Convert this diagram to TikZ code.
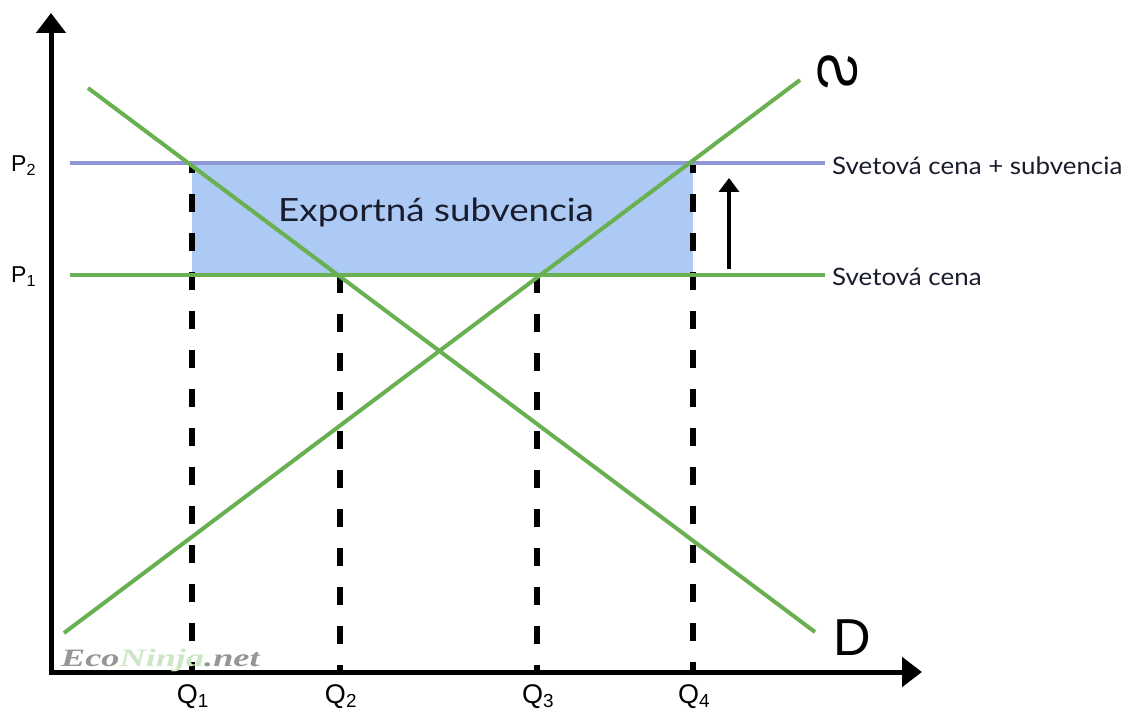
\documentclass[tikz,border=0pt]{standalone}
\usepackage{fontspec}
\usepackage{graphicx}
\setmainfont{Lato}
\newfontfamily\arialf{Liberation Sans}
\newfontfamily\serifw{Liberation Serif}
\usetikzlibrary{arrows.meta}
\definecolor{sgreen}{RGB}{104,176,80}
\definecolor{pblue}{RGB}{143,152,214}
\definecolor{sfill}{RGB}{172,202,244}
\definecolor{wmgray}{RGB}{150,150,150}
\definecolor{wmgreen}{RGB}{205,230,195}
\definecolor{txtdark}{RGB}{25,28,45}
\begin{document}
\begin{tikzpicture}[x=1pt,y=-1pt,
  axisline/.style={line width=5pt,{Triangle[width=29pt,length=20pt]}-{Triangle[width=29pt,length=20pt]}},
  curve/.style={sgreen,line width=4pt},
  pricelineA/.style={pblue,line width=3.5pt},
  pricelineB/.style={sgreen,line width=3.5pt},
  guide/.style={black,line width=6.5pt,dash pattern=on 18pt off 21pt},
  shiftarrow/.style={line width=3.5pt,-{Triangle[width=20pt,length=14pt]}},
  lbl/.style={inner sep=0pt,anchor=base west},
  axlbl/.style={inner sep=0pt,anchor=base,font=\arialf\fontsize{27}{27}\selectfont}
]
\useasboundingbox (0,0) rectangle (1129,711);
% coordinates
\coordinate (ytop) at (51,13);
\coordinate (O) at (51,672);
\coordinate (xend) at (922,672);
\coordinate (d1) at (88,88);
\coordinate (d2) at (815,632);
\coordinate (s1) at (64,633);
\coordinate (s2) at (800,80);
\coordinate (p2l) at (70,163);
\coordinate (p2r) at (825,163);
\coordinate (p1l) at (70,275);
\coordinate (p1r) at (825,275);
\coordinate (q1t) at (192,163);
\coordinate (q1b) at (192,672);
\coordinate (q2t) at (340,275);
\coordinate (q2b) at (340,672);
\coordinate (q3t) at (537,275);
\coordinate (q3b) at (537,672);
\coordinate (q4t) at (693,163);
\coordinate (q4b) at (693,672);
\coordinate (q4m) at (693,275);
\coordinate (arrb) at (729,269);
\coordinate (arrt) at (729,178);
% subsidy area
\fill[sfill] (q1t) rectangle (q4m);
% guides
\draw[guide,dash phase=8pt] (q1t) -- (q1b);
\draw[guide] (q2t) -- (q2b);
\draw[guide] (q3t) -- (q3b);
\draw[guide,dash phase=8pt] (q4t) -- (q4b);
% price lines
\draw[pricelineA] (p2l) -- (p2r);
\draw[pricelineB] (p1l) -- (p1r);
% curves
\draw[curve] (d1) -- (d2);
\draw[curve] (s1) -- (s2);
% axes
\draw[axisline] (ytop) -- (O) -- (xend);
% shift arrow
\draw[shiftarrow] (arrb) -- (arrt);
% labels
\node[lbl,text=txtdark] (exp) at (278,222) {\fontsize{32}{32}\selectfont\scalebox{1.15}[1]{Exportná subvencia}};
\node[lbl,text=txtdark] (lp2) at (832,175) {\fontsize{24}{24}\selectfont\scalebox{1.08}[1]{Svetová cena + subvencia}};
\node[lbl,text=txtdark] (lp1) at (832,285) {\fontsize{24}{24}\selectfont\scalebox{1.08}[1]{Svetová cena}};
\node[lbl] (P2) at (11,172) {\arialf\fontsize{23}{23}\selectfont P\textsubscript{2}};
\node[lbl] (P1) at (11,283) {\arialf\fontsize{23}{23}\selectfont P\textsubscript{1}};
\node[axlbl] (Q1) at (193,703) {Q\textsubscript{1}};
\node[axlbl] (Q2) at (341,703) {Q\textsubscript{2}};
\node[axlbl] (Q3) at (538,703) {Q\textsubscript{3}};
\node[axlbl] (Q4) at (694,703) {Q\textsubscript{4}};
\node[lbl] (D) at (833,655) {\arialf\fontsize{52}{52}\selectfont D};
\node[inner sep=0pt] (S) at (838,72) {\arialf\fontsize{56}{56}\selectfont\reflectbox{\rotatebox{90}{S}}};
\node[lbl] (wm) at (61,666) {\serifw\bfseries\itshape\fontsize{25}{25}\selectfont\scalebox{1.45}[1]{\textcolor{wmgray}{Eco}\textcolor{wmgreen}{Ninja}\textcolor{wmgray}{.net}}};
\end{tikzpicture}
\end{document}
